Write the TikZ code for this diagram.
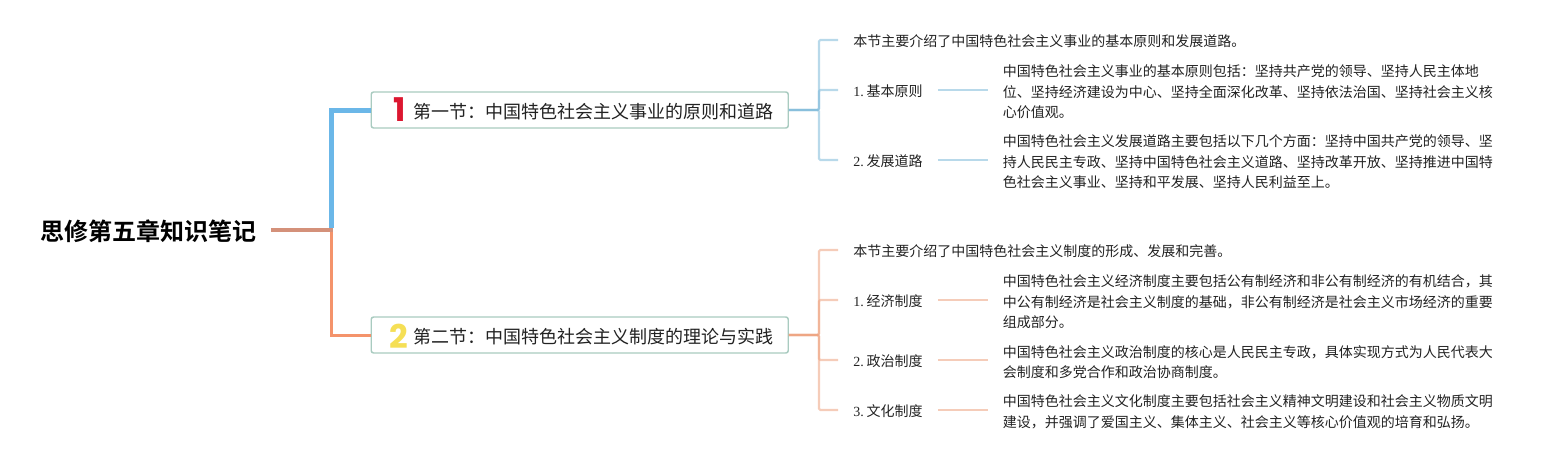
\documentclass[tikz,border=0pt]{standalone}
\usepackage{fontspec}
\setmainfont{Liberation Serif}
\newfontfamily\cjk{Noto Sans CJK SC}
\newfontfamily\cjkbold{Noto Sans CJK SC Bold}
\newfontfamily\digitfont{Poppins Bold}
\definecolor{rootline}{HTML}{D4917A}
\definecolor{blueline}{HTML}{6BB7E8}
\definecolor{orangeline}{HTML}{F4936B}
\definecolor{boxline}{HTML}{A9CBC0}
\definecolor{bluesub}{HTML}{7DB9D9}
\definecolor{orangesub}{HTML}{EDA27F}
\definecolor{numred}{HTML}{DC1730}
\definecolor{numyellow}{HTML}{F5DF55}
\definecolor{inktext}{HTML}{222222}
\tikzset{
  x=0.75pt,y=-0.75pt,
  rootnode/.style={inner xsep=10.5pt,inner ysep=0pt,text=black,font=\fontsize{18pt}{22pt}\cjkbold},
  sectionbox/.style={draw=boxline,line width=1.1pt,fill=white,rounded corners=1.8pt,anchor=west,
    minimum width=312.75pt,minimum height=27pt,inner xsep=0pt,inner ysep=0pt,text width=312.75pt,align=left,
    text height=14pt,text depth=1.6pt,
    text=inktext,font=\fontsize{13.5pt}{16pt}\cjk},
  numeral/.style={inner sep=0pt,font=\fontsize{24.5pt}{28pt}\digitfont},
  leaflabel/.style={anchor=west,inner xsep=11.25pt,inner ysep=0pt,text=inktext,
    text height=11pt,text depth=1.5pt,font=\fontsize{10.5pt}{15.4pt}\selectfont},
  detail/.style={anchor=west,inner xsep=10.9pt,inner ysep=0pt,text=inktext,align=left,font=\fontsize{10.5pt}{15.4pt}\cjk},
  bluewire/.style={draw=bluesub,line width=1.6pt,opacity=.55,rounded corners=1pt},
  orangewire/.style={draw=orangesub,line width=1.6pt,opacity=.55,rounded corners=1pt},
}
\newcommand{\numgap}{\hspace{2.2pt}}
\begin{document}
\begin{tikzpicture}
\useasboundingbox (0,0) rectangle (1563,460);
\node[rootnode] (root) at (148.5,231) {思修第五章知识笔记};
\coordinate (jct) at (331,230);
\node[sectionbox] (s1) at (370.5,110) {\hspace*{31.5pt}第一节：中国特色社会主义事业的原则和道路};
\node[sectionbox] (s2) at (370.5,335) {\hspace*{31.5pt}第二节：中国特色社会主义制度的理论与实践};
\node[numeral,text=numred] (n1) at (399.5,110) {1};
\node[numeral,text=numyellow] (n2) at (398.5,336) {2};

\draw[blueline,line width=3.75pt] ([yshift=1.5pt]jct) -- (jct |- s1.west) -- (s1.west);
\draw[orangeline,line width=2.25pt] (jct) -- (jct |- s2.west) -- (s2.west);
\coordinate (jctend) at (333,230);
\draw[rootline,line width=3.6pt] (root.east |- jct) -- (jctend);

% first section
\node[leaflabel] (a0) at (838,40) {{\cjk 本节主要介绍了中国特色社会主义事业的基本原则和发展道路。}};
\node[leaflabel] (a1) at (838,90) {1.\numgap{\cjk 基本原则}};
\node[leaflabel] (a2) at (838,160) {2.\numgap{\cjk 发展道路}};
\node[detail] (a1d) at (988,92) {中国特色社会主义事业的基本原则包括：坚持共产党的领导、坚持人民主体地\\位、坚持经济建设为中心、坚持全面深化改革、坚持依法治国、坚持社会主义核\\心价值观。};
\node[detail] (a2d) at (988,162) {中国特色社会主义发展道路主要包括以下几个方面：坚持中国共产党的领导、坚\\持人民民主专政、坚持中国特色社会主义道路、坚持改革开放、坚持推进中国特\\色社会主义事业、坚持和平发展、坚持人民利益至上。};
\coordinate (a1e) at (a1d.west |- a1.east);
\coordinate (a2e) at (a2d.west |- a2.east);
\foreach \t in {a0,a1,a2}{
  \draw[bluewire] (s1.east) -- ++(30,0) |- (\t.west);
}
\draw[bluewire] (a1.east) -- (a1e);
\draw[bluewire] (a2.east) -- (a2e);

% second section
\node[leaflabel] (b0) at (838,250) {{\cjk 本节主要介绍了中国特色社会主义制度的形成、发展和完善。}};
\node[leaflabel] (b1) at (838,300) {1.\numgap{\cjk 经济制度}};
\node[leaflabel] (b2) at (838,360) {2.\numgap{\cjk 政治制度}};
\node[leaflabel] (b3) at (838,410) {3.\numgap{\cjk 文化制度}};
\node[detail] (b1d) at (988,302) {中国特色社会主义经济制度主要包括公有制经济和非公有制经济的有机结合，其\\中公有制经济是社会主义制度的基础，非公有制经济是社会主义市场经济的重要\\组成部分。};
\node[detail] (b2d) at (988,362) {中国特色社会主义政治制度的核心是人民民主专政，具体实现方式为人民代表大\\会制度和多党合作和政治协商制度。};
\node[detail] (b3d) at (988,412) {中国特色社会主义文化制度主要包括社会主义精神文明建设和社会主义物质文明\\建设，并强调了爱国主义、集体主义、社会主义等核心价值观的培育和弘扬。};
\coordinate (b1e) at (b1d.west |- b1.east);
\coordinate (b2e) at (b2d.west |- b2.east);
\coordinate (b3e) at (b3d.west |- b3.east);
\foreach \t in {b0,b1,b2,b3}{
  \draw[orangewire] (s2.east) -- ++(30,0) |- (\t.west);
}
\draw[orangewire] (b1.east) -- (b1e);
\draw[orangewire] (b2.east) -- (b2e);
\draw[orangewire] (b3.east) -- (b3e);
\end{tikzpicture}
\end{document}
